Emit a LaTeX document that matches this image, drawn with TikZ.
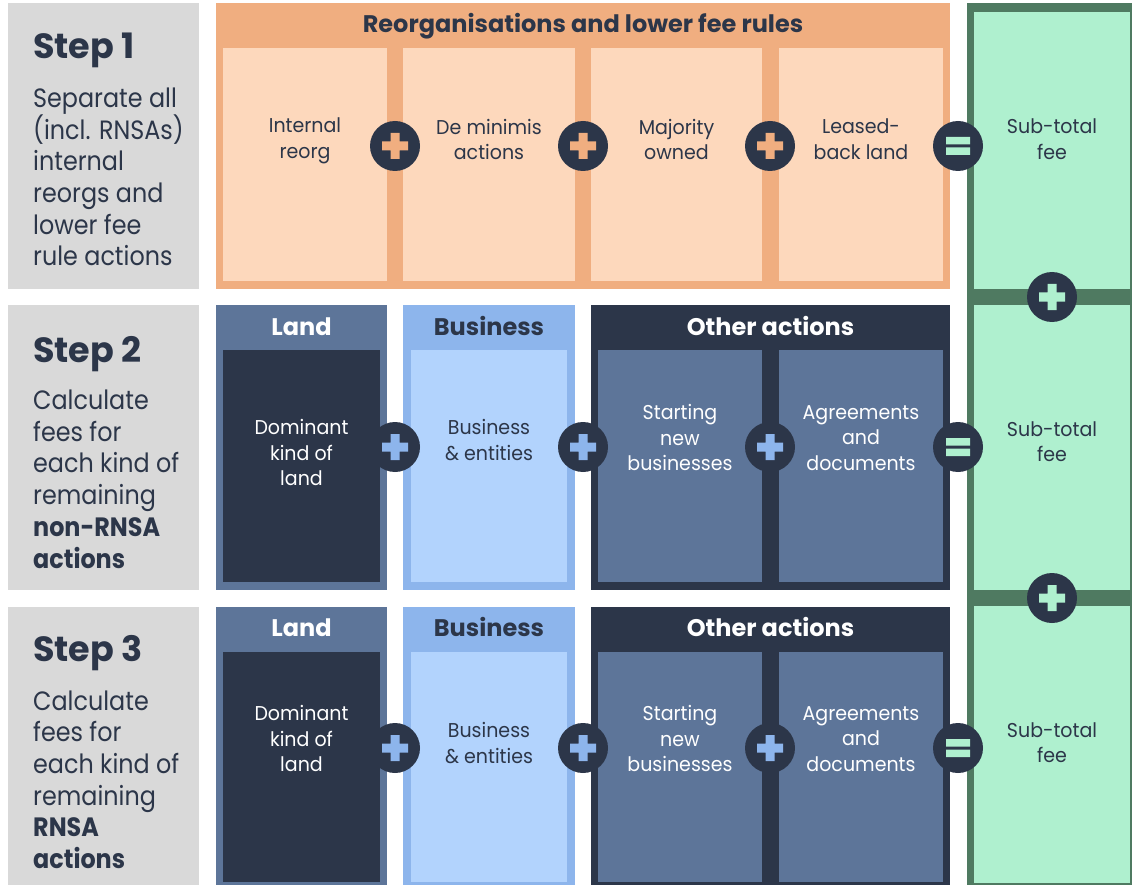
\documentclass[tikz,border=0pt]{standalone}
\usepackage{fontspec}
\setmainfont{Poppins}
\newfontfamily\stepfont[FakeStretch=0.9]{Poppins}
\newfontfamily\cellfont[FakeStretch=0.95]{Poppins}
\usetikzlibrary{positioning}
\definecolor{navy}{HTML}{2C3649}
\definecolor{slate}{HTML}{5D7599}
\definecolor{stepgray}{HTML}{D9D9D9}
\definecolor{feeorange}{HTML}{F0AE80}
\definecolor{feeorangelt}{HTML}{FDD8BC}
\definecolor{blu}{HTML}{8DB5EC}
\definecolor{blult}{HTML}{B2D3FD}
\definecolor{feegreen}{HTML}{4F7A61}
\definecolor{feegreenlt}{HTML}{AFF0CF}
\tikzset{
  step_title/.style = {anchor=base west, inner sep=0pt, text=navy,
    font=\fontsize{35}{40}\selectfont\bfseries},
  step_body/.style = {anchor=west, inner sep=0pt, align=left, text=navy,
    font=\stepfont\fontsize{26.5}{31.7}\selectfont,
    execute at begin node=\strut, execute at end node=\strut},
  hdr/.style = {anchor=base, inner sep=0pt,
    font=\fontsize{24}{28}\selectfont\bfseries},
  cell/.style = {inner sep=0pt, align=center,
    font=\cellfont\fontsize{20}{25.5}\selectfont,
    execute at begin node=\strut, execute at end node=\strut},
  op/.style = {circle, fill=navy, minimum size=50pt, inner sep=0pt},
  op_plus/.style = {op, path picture={
    \fill[#1] ([shift={(-13,-4.5)}]path picture bounding box.center)
      rectangle ([shift={(13,4.5)}]path picture bounding box.center)
      ([shift={(-4.5,-13)}]path picture bounding box.center)
      rectangle ([shift={(4.5,13)}]path picture bounding box.center);}},
  op_eq/.style = {op, path picture={
    \fill[feegreenlt] ([shift={(-12,-9)}]path picture bounding box.center)
      rectangle ([shift={(12,-1.5)}]path picture bounding box.center)
      ([shift={(-12,1.5)}]path picture bounding box.center)
      rectangle ([shift={(12,9)}]path picture bounding box.center);}}
}
\begin{document}
\begin{tikzpicture}[x=1pt,y=-1pt]
\useasboundingbox (0,0) rectangle (1132,885);

% step boxes and fee column
\foreach \ya/\yb in {3/289,305/590,607/885}
  \fill[stepgray] (8,\ya) rectangle (199,\yb);
\fill[feegreen] (967,3) rectangle (1132,885);
\foreach \ya/\yb in {12/289,305/590,606/883}
  \fill[feegreenlt] (974,\ya) rectangle (1130,\yb);

% step 1
\fill[feeorange] (216,3) rectangle (950,289);
\foreach \xa/\xb in {223/387,403/575,591/762,779/943}
  \fill[feeorangelt] (\xa,48) rectangle (\xb,281);

% steps 2 and 3
\foreach \ya/\yh/\yi/\yb in {305/350/582/590,607/652/882/885} {
  \fill[slate] (216,\ya) rectangle (387,\yb);
  \fill[navy] (223,\yh) rectangle (380,\yi);
  \fill[blu] (403,\ya) rectangle (575,\yb);
  \fill[blult] (411,\yh) rectangle (567,\yi);
  \fill[navy] (591,\ya) rectangle (950,\yb);
  \fill[slate] (598,\yh) rectangle (762,\yi);
  \fill[slate] (779,\yh) rectangle (943,\yi);
}

% left column
\node[step_title] (t1) at (33,59) {Step 1};
\node[step_body] (d1) at (33,181.7) {Separate all\\(incl. RNSAs)\\internal\\reorgs and\\lower fee\\rule actions};
\node[step_title] (t2) at (33,362) {Step 2};
\node[step_body] (d2) at (33,483.7) {Calculate\\fees for\\each kind of\\remaining\\\textbf{non-RNSA}\\\textbf{actions}};
\node[step_title] (t3) at (33,661) {Step 3};
\node[step_body] (d3) at (33,784.2) {Calculate\\fees for\\each kind of\\remaining\\\textbf{RNSA}\\\textbf{actions}};

% headers
\node[hdr, text=navy] (h1) at (583,33) {Reorganisations and lower fee rules};
\foreach \r/\y in {2/335,3/636} {
  \node[hdr, text=white] (land\r) at (301.5,\y) {Land};
  \node[hdr, text=navy] (bus\r) at (489,\y) {Business};
  \node[hdr, text=white] (oth\r) at (770.5,\y) {Other actions};
}

% cells
\node[cell, text=navy] (c11) at (305,142) {Internal\\reorg};
\node[cell, text=navy] (c12) at (489,143) {De minimis\\actions};
\node[cell, text=navy] (c13) at (676.5,143) {Majority\\owned};
\node[cell, text=navy] (c14) at (861,143) {Leased-\\back land};
\node[cell, text=navy] (f1) at (1052,143) {Sub-total\\fee};

\node[cell, text=white] (c21) at (301.5,456.5) {Dominant\\kind of\\land};
\node[cell, text=navy] (c22) at (489,443.5) {Business\\\& entities};
\node[cell, text=white] (c23) at (680,441.5) {Starting\\new\\businesses};
\node[cell, text=white] (c24) at (861,441.5) {Agreements\\and\\documents};
\node[cell, text=navy] (f2) at (1052,445.5) {Sub-total\\fee};

\node[cell, text=white] (c31) at (301.5,742.5) {Dominant\\kind of\\land};
\node[cell, text=navy] (c32) at (489,746.5) {Business\\\& entities};
\node[cell, text=white] (c33) at (680,742.5) {Starting\\new\\businesses};
\node[cell, text=white] (c34) at (861,742.5) {Agreements\\and\\documents};
\node[cell, text=navy] (f3) at (1052,746.5) {Sub-total\\fee};

% operators
\foreach \x/\n in {395/a,583/b,770/c}
  \node[op_plus=feeorange] (p1\n) at (\x,146) {};
\node[op_eq] (e1) at (958,146) {};
\foreach \r/\y in {2/447,3/748} {
  \foreach \x/\n in {395/a,583/b,770/c}
    \node[op_plus=blu] (p\r\n) at (\x,\y) {};
  \node[op_eq] (e\r) at (958,\y) {};
}
\node[op_plus=feegreenlt] (g1) at (1052,297) {};
\node[op_plus=feegreenlt] (g2) at (1052,598) {};
\end{tikzpicture}
\end{document}
